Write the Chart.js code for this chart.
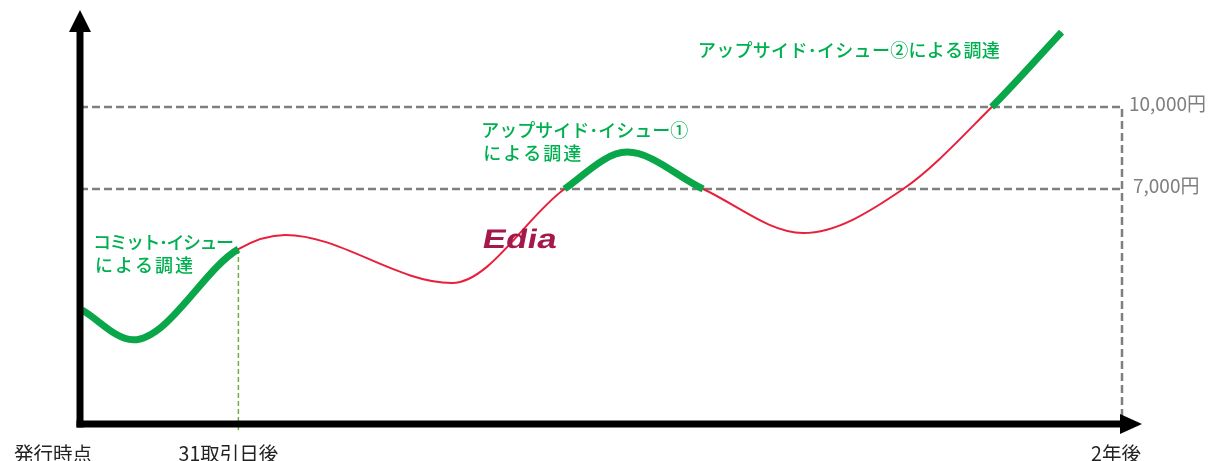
<!DOCTYPE html>
<html lang="ja">
<head>
<meta charset="utf-8">
<script src="https://cdn.jsdelivr.net/npm/chart.js@4.4.1/dist/chart.umd.min.js"></script>
<style>
  html, body { margin: 0; padding: 0; background: #fff; }
  canvas { display: block; }
</style>
</head>
<body>
<canvas id="chart" width="1211" height="461"></canvas>
<script>
// schematic share price path (x: 0 = issue date, 100 = two years later)
const xValues = [0.2, 5.1, 15.2, 19.7, 35.7, 46.5, 52.5, 59.8, 69.4, 79.0, 87.5, 94.2];
const prices = [2570, 1480, 4800, 5320, 3560, 7000, 8350, 7000, 5390, 7000, 10000, 12740];

// stretches where funds are raised (thick green)
const issueSpans = [[0.2, 15.2], [46.5, 59.8], [87.5, 94.2]];

const priceLevels = [10000, 7000];
const priceLabels = ["10,000円", "7,000円"];

const xTicks = [0, 15.2, 100];
const xTickLabels = ["発行時点", "31取引日後", "2年後"];

const notes = [
  { lines: ["コミット･イシュー", "による調達"], spacing: [-1.5, 2], x: 1.25, y: 5060 },
  { lines: ["アップサイド･イシュー①", "による調達"], spacing: [0, 2], x: 38.5, y: 9160 },
  { lines: ["アップサイド･イシュー②による調達"], spacing: [0.3], x: 59.3, y: 12085 },
];

const RED = "#e8203c";
const GREEN = "#0aa64a";
const TEXT_GREEN = "#00b050";
const GREY = "#7f7f7f";

const curve = xValues.map((x, i) => ({ x: x, y: prices[i] }));

function inSpan(a, b) {
  return issueSpans.some(s => a >= s[0] - 1e-6 && b <= s[1] + 1e-6);
}

const overlay = {
  id: "overlay",
  beforeDatasetsDraw(chart) {
    const { ctx, chartArea, scales: { x, y } } = chart;
    // green dashed marker at 31 trading days
    const xm = x.getPixelForValue(xTicks[1]);
    const idx = xValues.indexOf(xTicks[1]);
    ctx.save();
    ctx.strokeStyle = "#70ad47";
    ctx.lineWidth = 1.5;
    ctx.setLineDash([5, 3]);
    ctx.beginPath();
    ctx.moveTo(xm, y.getPixelForValue(prices[idx]));
    ctx.lineTo(xm, chartArea.bottom + 7);
    ctx.stroke();
    ctx.restore();
  },
  afterDatasetsDraw(chart) {
    const { ctx, chartArea, scales: { x, y } } = chart;
    const left = chartArea.left, bottom = chartArea.bottom;
    ctx.save();

    // axes with arrow heads
    ctx.fillStyle = "#000";
    ctx.fillRect(left - 3.5, 32, 7, bottom - 32 + 3.5);
    ctx.beginPath();
    ctx.moveTo(left, 10);
    ctx.lineTo(left - 11, 32);
    ctx.lineTo(left + 11, 32);
    ctx.closePath();
    ctx.fill();
    ctx.fillRect(left - 3.5, bottom - 3.5, 1120 - left + 3.5, 7);
    ctx.beginPath();
    ctx.moveTo(1142, bottom);
    ctx.lineTo(1120, bottom - 10);
    ctx.lineTo(1120, bottom + 10);
    ctx.closePath();
    ctx.fill();

    // price level labels
    ctx.font = "19px 'Noto Sans CJK JP', 'Noto Sans', sans-serif";
    ctx.fillStyle = GREY;
    ctx.textBaseline = "middle";
    ctx.textAlign = "left";
    priceLevels.forEach((p, i) => {
      ctx.fillText(priceLabels[i], x.getPixelForValue(100) + (i === 0 ? 7 : 11), y.getPixelForValue(p) - 3);
    });

    // x labels
    ctx.font = "19.5px 'Noto Sans CJK JP', 'Noto Sans', sans-serif";
    ctx.fillStyle = "#222";
    ctx.textBaseline = "alphabetic";
    xTicks.forEach((v, i) => {
      const px = x.getPixelForValue(v);
      if (i === 0) {
        ctx.textAlign = "right";
        ctx.fillText(xTickLabels[i], px + 12, 461);
      } else {
        ctx.textAlign = "center";
        ctx.fillText(xTickLabels[i], px - (i === 1 ? 10 : 6), 461);
      }
    });

    // green notes
    ctx.font = "500 18px 'Noto Sans CJK JP', 'Noto Sans', sans-serif";
    ctx.fillStyle = TEXT_GREEN;
    ctx.textAlign = "left";
    ctx.textBaseline = "middle";
    notes.forEach(n => {
      const px = x.getPixelForValue(n.x), py = y.getPixelForValue(n.y);
      n.lines.forEach((t, j) => {
        ctx.letterSpacing = n.spacing[j] + "px";
        ctx.fillText(t, px + (j ? 2 : 0), py + j * 23);
      });
    });
    ctx.letterSpacing = "0px";

    // logo
    ctx.font = "bold 27px 'Liberation Sans', sans-serif";
    ctx.fillStyle = "#a3194c";
    ctx.textAlign = "center";
    ctx.translate(x.getPixelForValue(42.2), y.getPixelForValue(5134) + 1);
    ctx.transform(1.3, 0, -0.2, 1, 0, 0);
    ctx.fillText("Edia", 0, 0);
    ctx.restore();
  }
};

new Chart(document.getElementById("chart"), {
  type: "line",
  data: {
    datasets: [
      {
        data: curve,
        borderWidth: 7,
        borderCapStyle: "butt",
        cubicInterpolationMode: "monotone",
        segment: {
          borderColor: c => inSpan(c.p0.parsed.x, c.p1.parsed.x) ? GREEN : "rgba(0,0,0,0)",
        },
        pointRadius: 0,
        clip: false,
      },
      {
        data: curve,
        borderColor: RED,
        borderWidth: 2,
        cubicInterpolationMode: "monotone",
        pointRadius: 0,
        clip: false,
      },
      {
        data: [{ x: 0, y: priceLevels[0] }, { x: 100, y: priceLevels[0] }, { x: 100, y: -1600 }],
        borderColor: GREY,
        borderWidth: 2.5,
        borderDash: [8, 4],
        tension: 0,
        pointRadius: 0,
        clip: false,
      },
      {
        data: [{ x: 0, y: priceLevels[1] }, { x: 100, y: priceLevels[1] }],
        borderColor: GREY,
        borderWidth: 2.5,
        borderDash: [8, 4],
        tension: 0,
        pointRadius: 0,
        clip: false,
      },
    ],
  },
  options: {
    responsive: false,
    animation: false,
    devicePixelRatio: 1,
    layout: { padding: { left: 80, right: 89, top: 10, bottom: 37 } },
    plugins: { legend: { display: false }, tooltip: { enabled: false } },
    scales: {
      x: { type: "linear", min: 0, max: 100, display: false },
      y: { min: -1600, max: 13550, display: false },
    },
  },
  plugins: [overlay],
});
</script>
</body>
</html>
